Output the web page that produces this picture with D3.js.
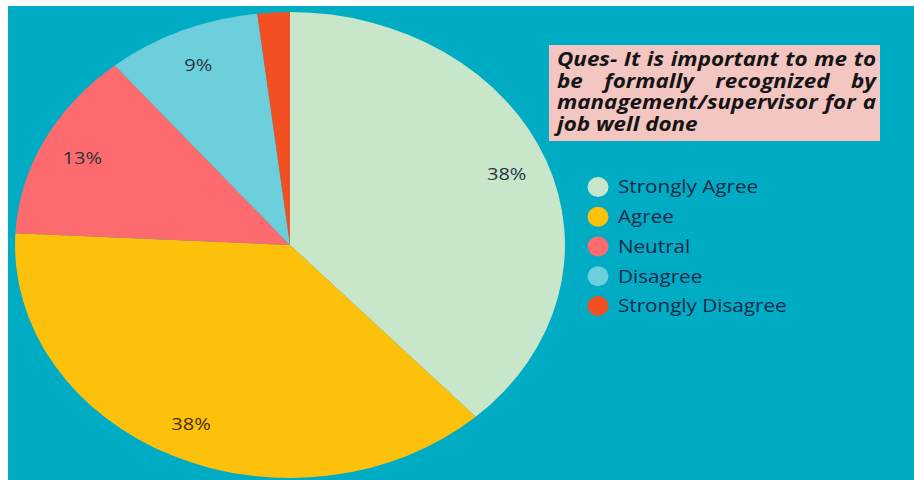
<!DOCTYPE html>
<html><head><meta charset="utf-8">
<script src="https://cdn.jsdelivr.net/npm/d3@7"></script>
<style>html,body{margin:0;padding:0;background:#fff;}svg{display:block;}</style>
</head><body>
<svg id="chart" width="914" height="480"></svg>
<script>
const categories = ["Strongly Agree","Agree","Neutral","Disagree","Strongly Disagree"];
const values = [38.2, 37.6, 13.2, 9.1, 1.9];
const labels = ["38%","38%","13%","9%",""];
const colors = ["#C8E6CA","#FDC10B","#FE6B6E","#6DCFDB","#F25022"];
const titleLines = ["Ques- It is important to me to","be formally recognized by","management/supervisor for a","job well done"];

const svg = d3.select("#chart");
svg.append("rect").attr("x",8).attr("y",6).attr("width",906).attr("height",474).attr("fill","#00ACC3");

const R = 233, sx = 1.18, cx = 290, cy = 245;
const pie = d3.pie().value(d=>d).sort(null);
const arcs = pie(values);
const arc = d3.arc().innerRadius(0).outerRadius(R);
const lblArc = d3.arc().innerRadius(197).outerRadius(197);
const g = svg.append("g").attr("transform",`translate(${cx},${cy}) scale(${sx},1)`);
g.selectAll("path").data(arcs).join("path").attr("d",arc).attr("fill",(d,i)=>colors[i]);

const lg = svg.append("g").attr("transform",`translate(${cx},${cy})`);
lg.selectAll("text").data(arcs).join("text")
  .attr("transform",d=>`translate(${lblArc.centroid(d)[0]*sx},${lblArc.centroid(d)[1]}) scale(${sx},1)`)
  .attr("text-anchor","middle").attr("dominant-baseline","central")
  .attr("font-family","Open Sans").attr("font-size",17)
  .attr("fill",(d,i)=>i===1?"#4a2a00":"#2a3340")
  .text((d,i)=>labels[i]);

// legend
const leg = svg.append("g");
const ly = d3.scalePoint().domain(categories).range([187,306]);
categories.forEach((c,i)=>{
  leg.append("ellipse").attr("cx",598).attr("cy",ly(c)).attr("rx",10.5).attr("ry",10).attr("fill",colors[i]);
  leg.append("text").attr("transform",`translate(618,${ly(c)}) scale(${sx},1)`).attr("dominant-baseline","central")
    .attr("font-family","Open Sans").attr("font-size",17.5).attr("fill","#16294a").text(c);
});

// title box
svg.append("rect").attr("x",549).attr("y",45).attr("width",331).attr("height",96).attr("fill","#F3C6C2");
const tx0 = 557, tx1 = 876;
const tt = svg.append("text").attr("transform",`translate(${tx0},0) scale(${sx},1)`)
  .attr("font-family","Open Sans").attr("font-size",19)
  .attr("font-weight","bold").attr("font-style","italic").attr("fill","#151515");
titleLines.forEach((line,li)=>{
  const y = 66.5 + li*21.4;
  if (li === titleLines.length-1) {
    tt.append("tspan").attr("x",0).attr("y",y).text(line);
    return;
  }
  const words = line.split(" ");
  const nodes = words.map(w=>tt.append("tspan").attr("x",0).attr("y",y).text(w));
  const widths = nodes.map(n=>n.node().getComputedTextLength());
  const avail = (tx1-tx0)/sx;
  const gap = (avail-d3.sum(widths))/(words.length-1);
  let x = 0;
  nodes.forEach((n,i)=>{ n.attr("x",x); x += widths[i]+gap; });
});
</script>
</body></html>
